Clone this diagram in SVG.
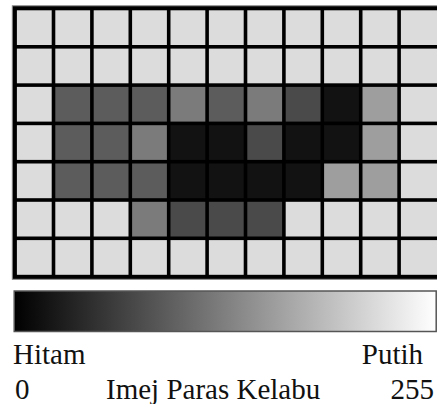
<svg xmlns="http://www.w3.org/2000/svg" width="437" height="404" viewBox="0 0 437 404">
<style>
.L{fill:#dcdcdc}
.k{fill:#121212}
.d{fill:#4a4a4a}
.m{fill:#5c5c5c}
.g{fill:#7b7b7b}
.s{fill:#9e9e9e}
</style>
<defs>
<linearGradient id="gr" x1="0" y1="0" x2="1" y2="0">
<stop offset="0" stop-color="#000"/>
<stop offset="1" stop-color="#fff"/>
</linearGradient>
</defs>
<rect width="437" height="404" fill="#fff"/>
<g id="grid">
<rect x="12.3" y="5.8" width="430" height="273.5" fill="#000" stroke="#888" stroke-width="1"/>
<g id="row0">
<rect class="L" x="16.9" y="10.3" width="34.8" height="34.7"/><rect class="L" x="55.3" y="10.3" width="34.8" height="34.7"/><rect class="L" x="93.7" y="10.3" width="34.8" height="34.7"/><rect class="L" x="132.1" y="10.3" width="34.8" height="34.7"/><rect class="L" x="170.5" y="10.3" width="34.8" height="34.7"/><rect class="L" x="208.9" y="10.3" width="34.8" height="34.7"/><rect class="L" x="247.3" y="10.3" width="34.8" height="34.7"/><rect class="L" x="285.7" y="10.3" width="34.8" height="34.7"/><rect class="L" x="324.1" y="10.3" width="34.8" height="34.7"/><rect class="L" x="362.5" y="10.3" width="34.8" height="34.7"/><rect class="L" x="400.9" y="10.3" width="36.1" height="34.7"/>
</g>
<g id="row1">
<rect class="L" x="16.9" y="48.6" width="34.8" height="34.7"/><rect class="L" x="55.3" y="48.6" width="34.8" height="34.7"/><rect class="L" x="93.7" y="48.6" width="34.8" height="34.7"/><rect class="L" x="132.1" y="48.6" width="34.8" height="34.7"/><rect class="L" x="170.5" y="48.6" width="34.8" height="34.7"/><rect class="L" x="208.9" y="48.6" width="34.8" height="34.7"/><rect class="L" x="247.3" y="48.6" width="34.8" height="34.7"/><rect class="L" x="285.7" y="48.6" width="34.8" height="34.7"/><rect class="L" x="324.1" y="48.6" width="34.8" height="34.7"/><rect class="L" x="362.5" y="48.6" width="34.8" height="34.7"/><rect class="L" x="400.9" y="48.6" width="36.1" height="34.7"/>
</g>
<g id="row2">
<rect class="L" x="16.9" y="86.9" width="34.8" height="34.7"/><rect class="m" x="55.3" y="86.9" width="34.8" height="34.7"/><rect class="m" x="93.7" y="86.9" width="34.8" height="34.7"/><rect class="m" x="132.1" y="86.9" width="34.8" height="34.7"/><rect class="g" x="170.5" y="86.9" width="34.8" height="34.7"/><rect class="m" x="208.9" y="86.9" width="34.8" height="34.7"/><rect class="g" x="247.3" y="86.9" width="34.8" height="34.7"/><rect class="d" x="285.7" y="86.9" width="34.8" height="34.7"/><rect class="k" x="324.1" y="86.9" width="34.8" height="34.7"/><rect class="s" x="362.5" y="86.9" width="34.8" height="34.7"/><rect class="L" x="400.9" y="86.9" width="36.1" height="34.7"/>
</g>
<g id="row3">
<rect class="L" x="16.9" y="125.2" width="34.8" height="34.7"/><rect class="m" x="55.3" y="125.2" width="34.8" height="34.7"/><rect class="m" x="93.7" y="125.2" width="34.8" height="34.7"/><rect class="g" x="132.1" y="125.2" width="34.8" height="34.7"/><rect class="k" x="170.5" y="125.2" width="34.8" height="34.7"/><rect class="k" x="208.9" y="125.2" width="34.8" height="34.7"/><rect class="d" x="247.3" y="125.2" width="34.8" height="34.7"/><rect class="k" x="285.7" y="125.2" width="34.8" height="34.7"/><rect class="k" x="324.1" y="125.2" width="34.8" height="34.7"/><rect class="s" x="362.5" y="125.2" width="34.8" height="34.7"/><rect class="L" x="400.9" y="125.2" width="36.1" height="34.7"/>
</g>
<g id="row4">
<rect class="L" x="16.9" y="163.5" width="34.8" height="34.7"/><rect class="m" x="55.3" y="163.5" width="34.8" height="34.7"/><rect class="m" x="93.7" y="163.5" width="34.8" height="34.7"/><rect class="m" x="132.1" y="163.5" width="34.8" height="34.7"/><rect class="k" x="170.5" y="163.5" width="34.8" height="34.7"/><rect class="k" x="208.9" y="163.5" width="34.8" height="34.7"/><rect class="k" x="247.3" y="163.5" width="34.8" height="34.7"/><rect class="k" x="285.7" y="163.5" width="34.8" height="34.7"/><rect class="s" x="324.1" y="163.5" width="34.8" height="34.7"/><rect class="s" x="362.5" y="163.5" width="34.8" height="34.7"/><rect class="L" x="400.9" y="163.5" width="36.1" height="34.7"/>
</g>
<g id="row5">
<rect class="L" x="16.9" y="201.8" width="34.8" height="34.7"/><rect class="L" x="55.3" y="201.8" width="34.8" height="34.7"/><rect class="L" x="93.7" y="201.8" width="34.8" height="34.7"/><rect class="g" x="132.1" y="201.8" width="34.8" height="34.7"/><rect class="d" x="170.5" y="201.8" width="34.8" height="34.7"/><rect class="d" x="208.9" y="201.8" width="34.8" height="34.7"/><rect class="d" x="247.3" y="201.8" width="34.8" height="34.7"/><rect class="L" x="285.7" y="201.8" width="34.8" height="34.7"/><rect class="L" x="324.1" y="201.8" width="34.8" height="34.7"/><rect class="L" x="362.5" y="201.8" width="34.8" height="34.7"/><rect class="L" x="400.9" y="201.8" width="36.1" height="34.7"/>
</g>
<g id="row6">
<rect class="L" x="16.9" y="240.1" width="34.8" height="34.7"/><rect class="L" x="55.3" y="240.1" width="34.8" height="34.7"/><rect class="L" x="93.7" y="240.1" width="34.8" height="34.7"/><rect class="L" x="132.1" y="240.1" width="34.8" height="34.7"/><rect class="L" x="170.5" y="240.1" width="34.8" height="34.7"/><rect class="L" x="208.9" y="240.1" width="34.8" height="34.7"/><rect class="L" x="247.3" y="240.1" width="34.8" height="34.7"/><rect class="L" x="285.7" y="240.1" width="34.8" height="34.7"/><rect class="L" x="324.1" y="240.1" width="34.8" height="34.7"/><rect class="L" x="362.5" y="240.1" width="34.8" height="34.7"/><rect class="L" x="400.9" y="240.1" width="36.1" height="34.7"/>
</g>
</g>
<g id="scale">
<rect x="14.2" y="291" width="422" height="40.5" fill="url(#gr)" stroke="#555" stroke-width="1.5"/>
</g>
<g id="labels" fill="#111">
<text x="13" y="364" font-family="Liberation Serif" font-size="29" style="font-family:'Liberation Serif',serif">Hitam</text>
<text x="423" y="364" text-anchor="end" font-family="Liberation Serif" font-size="29" style="font-family:'Liberation Serif',serif">Putih</text>
<text x="15" y="399" font-family="Liberation Serif" font-size="29" style="font-family:'Liberation Serif',serif">0</text>
<text x="106" y="399" font-family="Liberation Serif" font-size="29" style="font-family:'Liberation Serif',serif">Imej Paras Kelabu</text>
<text x="434" y="399" text-anchor="end" font-family="Liberation Serif" font-size="29" style="font-family:'Liberation Serif',serif">255</text>
</g>
</svg>
